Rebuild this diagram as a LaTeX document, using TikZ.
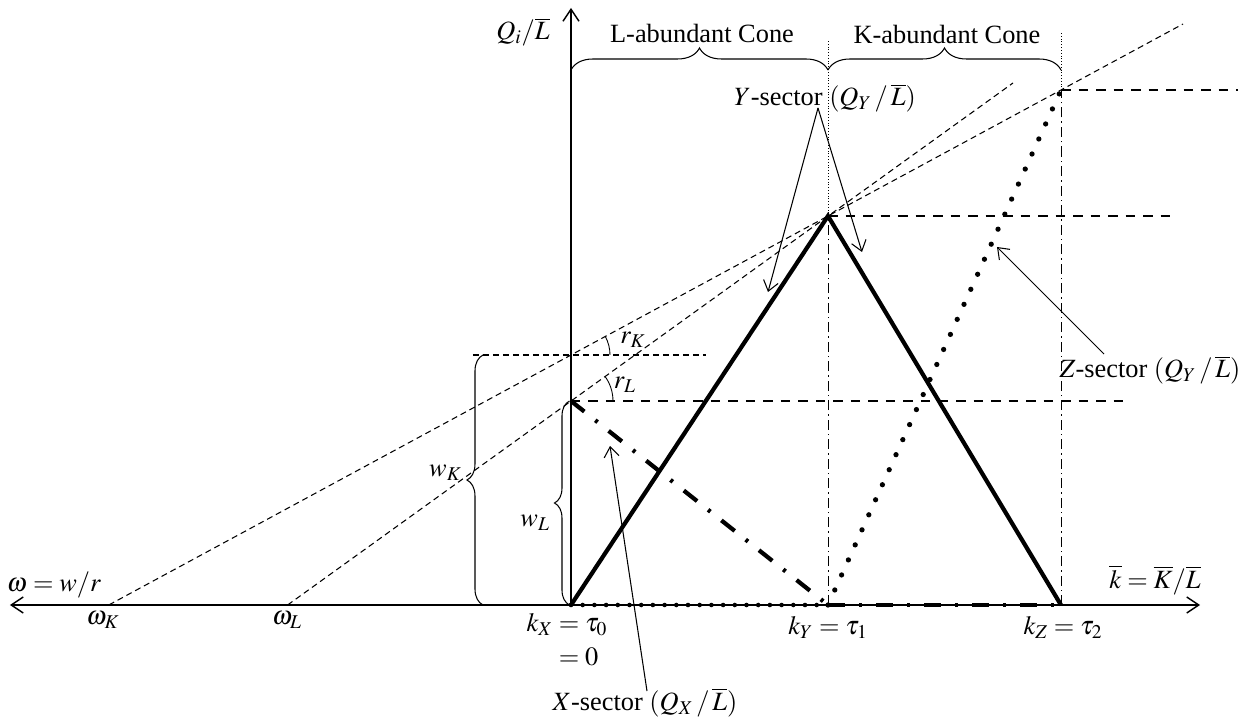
\documentclass[tikz,border=0pt]{standalone}
\usepackage{mathptmx}
\usepackage{fontspec}
\setmainfont{Liberation Serif}
\usetikzlibrary{arrows.meta,decorations.pathreplacing}

\begin{document}
\begin{tikzpicture}[
  every node/.style={font=\fontsize{15}{18}\selectfont},
  axisline/.style={line width=0.8pt},
  costline/.style={line width=0.6pt,dash pattern=on 1.2mm off 0.8mm},
  level/.style={line width=0.9pt,dash pattern=on 1.9mm off 1.6mm},
  guide/.style={line width=0.5pt,dash pattern=on 2mm off 0.8mm on 0.3mm off 0.8mm},
  topguide/.style={line width=0.4pt,dash pattern=on 0.4pt off 1.2pt},
  ysec/.style={line width=2.4pt},
  xsec/.style={line width=2.4pt,dash pattern=on 3.4mm off 2.8mm on 0.6mm off 2.8mm},
  zsec/.style={line width=3pt,line cap=round,dash pattern=on 0pt off 3.3mm},
  zbase/.style={line width=2.6pt,line cap=round,dash pattern=on 0pt off 2.34mm},
  callout/.style={line width=0.6pt,-{Straight Barb[length=2mm,width=3mm]}},
  brc/.style={decorate,decoration={brace,amplitude=#1},line width=0.6pt},
]
\useasboundingbox (-11.42,-2.24) rectangle (13.34,12.1);

% points on the axes
\coordinate (O) at (0,0);
\coordinate (kY) at (5.14,0);
\coordinate (kZ) at (9.8,0);
\coordinate (omK) at (-9.244,0);
\coordinate (omL) at (-5.668,0);
\coordinate (wK) at (0,5);
\coordinate (wL) at (0,4.08);
\coordinate (peakY) at (5.14,7.78);
\coordinate (topZ) at (9.8,10.3);

% axes
\coordinate (xleft) at (-11.22,0);
\coordinate (xright) at (12.58,0);
\coordinate (ytop) at (0,11.94);
\draw[axisline,{Straight Barb[length=2.4mm,width=3.2mm]}-{Straight Barb[length=2.4mm,width=3.2mm]}] (xleft) -- (xright);
\draw[axisline,-{Straight Barb[length=2.4mm,width=3.2mm]}] (O) -- (ytop);

% unit cost lines
\coordinate (endK) at (12.24,11.62);
\coordinate (endL) at (8.84,10.44);
\draw[costline] (omK) -- (endK);
\draw[costline] (omL) -- (endL);

% levels
\coordinate (lvZ) at (13.34,10.3);
\coordinate (lvY) at (11.98,7.78);
\coordinate (lvL) at (11.12,4.08);
\coordinate (lvKa) at (-1.96,5);
\coordinate (lvKb) at (2.7,5);
\draw[level] (topZ) -- (lvZ);
\draw[level] (peakY) -- (lvY);
\draw[level] (wL) -- (lvL);
\draw[costline] (lvKa) -- (lvKb);

% guides
\coordinate (gY) at (5.14,11.3);
\coordinate (gZ) at (9.8,11.44);
\draw[guide] (kY) -- (peakY);
\draw[guide] (kZ) -- (topZ);
\draw[topguide] (peakY) -- (gY);
\draw[topguide] (topZ) -- (gZ);

% angles
\draw[line width=0.5pt] ([shift={(0.78,0)}]wK) arc[start angle=0,end angle=28.4,radius=0.78];
\draw[line width=0.5pt] ([shift={(0.84,0)}]wL) arc[start angle=0,end angle=35.75,radius=0.84];
\node (rK) at (1.24,5.3) {$r_K$};
\node (rL) at (1.08,4.4) {$r_L$};

% sectors
\draw[zbase] (O) -- (kY);
\draw[xsec] (kY) -- (kZ);
\draw[xsec] (wL) -- (kY);
\draw[ysec] (O) -- (peakY) -- (kZ);
\draw[zsec] (kY) -- (topZ);

% braces
\coordinate (bL0) at (0,10.7);
\coordinate (bL1) at (5.14,10.7);
\coordinate (bK1) at (9.8,10.7);
\draw[brc=0.44cm] (bL0) -- (bL1);
\draw[brc=0.44cm] (bL1) -- (bK1);
\node (lcone) at (2.62,11.44) {L-abundant Cone};
\node (kcone) at (7.52,11.42) {K-abundant Cone};

\coordinate (bwK0) at (-1.76,0);
\coordinate (bwK1) at (-1.76,5);
\coordinate (bwL0) at (-0.03,0);
\coordinate (bwL1) at (-0.03,4.08);
\draw[brc=0.32cm] (bwK0) -- (bwK1);
\draw[brc=0.3cm] (bwL0) -- (bwL1);
\node[left] (wKlab) at (-2.06,2.64) {$w_K$};
\node[left] (wLlab) at (-0.3,1.64) {$w_L$};

% axis labels
\node (qlab) at (-0.96,11.46) {$Q_i/\overline{L}$};
\node (klab) at (11.68,0.5) {$\overline{k}=\overline{K}/\overline{L}$};
\node (wrlab) at (-10.34,0.4) {$\omega=w/r$};
\node (omKlab) at (-9.36,-0.3) {$\omega_K$};
\node (omLlab) at (-5.68,-0.3) {$\omega_L$};
\node (kXlab) at (-0.08,-0.74) {$\begin{array}{r@{}l}k_X&{}=\tau_0\\[1pt]&{}=0\end{array}$};
\node (kYlab) at (5.14,-0.44) {$k_Y=\tau_1$};
\node (kZlab) at (9.84,-0.44) {$k_Z=\tau_2$};

% sector labels
\node (ylab) at (5.08,10.14) {$Y$-sector $(Q_Y\,/\,\overline{L})$};
\node (zlab) at (11.58,4.7) {$Z$-sector $(Q_Y\,/\,\overline{L})$};
\node[inner sep=1pt] (xlab) at (1.48,-1.95) {$X$-sector $(Q_X\,/\,\overline{L})$};
\coordinate (yfrom) at (4.94,9.94);
\coordinate (yto1) at (3.94,6.26);
\coordinate (yto2) at (5.82,7.06);
\coordinate (zfrom) at (10.66,5.02);
\coordinate (zto) at (8.52,7.16);
\coordinate (xfrom) at (1.52,-1.72);
\coordinate (xto) at (0.78,3.18);
\draw[callout] (yfrom) -- (yto1);
\draw[callout] (yfrom) -- (yto2);
\draw[callout] (zfrom) -- (zto);
\draw[callout] (xfrom) -- (xto);
\end{tikzpicture}
\end{document}
